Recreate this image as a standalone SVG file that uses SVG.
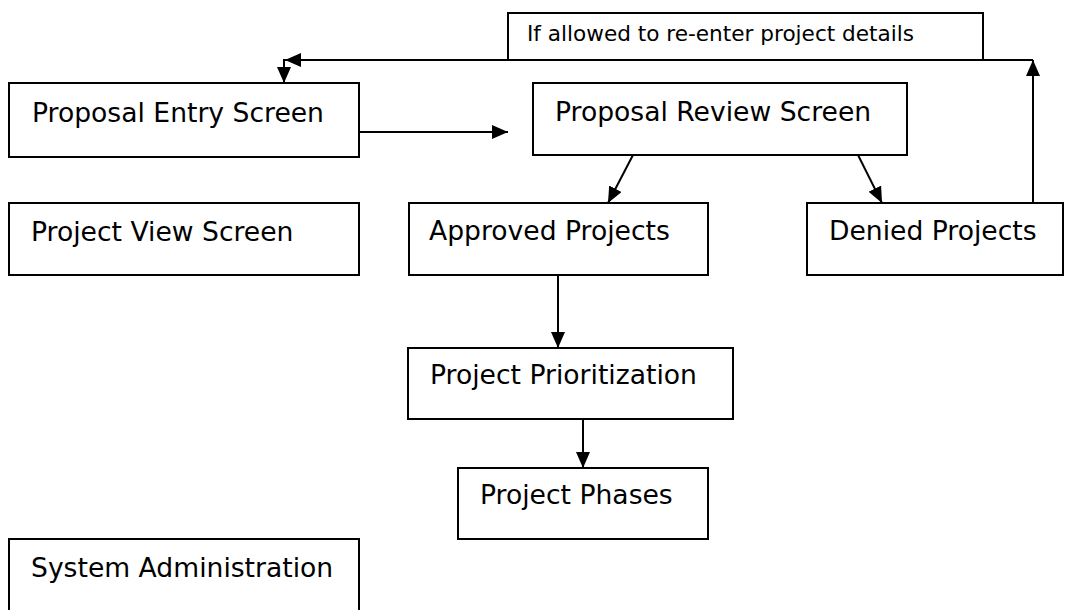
<svg xmlns="http://www.w3.org/2000/svg" width="1076" height="610" viewBox="0 0 1076 610">
<style>
.box{fill:#fff;stroke:#000;stroke-width:2}
.t{font-family:"DejaVu Sans",Verdana,sans-serif;font-size:26.6px;fill:#000}
.lt{font-family:"DejaVu Sans",Verdana,sans-serif;font-size:21.6px;fill:#000}
.c{fill:none;stroke:#000;stroke-width:2}
</style>
<defs>
<marker id="ah" markerUnits="userSpaceOnUse" markerWidth="17" markerHeight="15" refX="16" refY="7" orient="auto">
<path d="M0,0 L16,7 L0,14 z" fill="#000"/>
</marker>
</defs>
<rect width="1076" height="610" fill="#fff"/>
<g id="label">
<rect class="box" x="508" y="13" width="475" height="47"/>
<text class="lt" x="527" y="41">If allowed to re-enter project details</text>
</g>
<g id="entry">
<rect class="box" x="9" y="83" width="350" height="74"/>
<text class="t" x="32" y="122">Proposal Entry Screen</text>
</g>
<g id="review">
<rect class="box" x="533" y="83" width="374" height="72"/>
<text class="t" x="555" y="121">Proposal Review Screen</text>
</g>
<g id="view">
<rect class="box" x="9" y="203" width="350" height="72"/>
<text class="t" x="31" y="241">Project View Screen</text>
</g>
<g id="approved">
<rect class="box" x="409" y="203" width="299" height="72"/>
<text class="t" x="429" y="240">Approved Projects</text>
</g>
<g id="denied">
<rect class="box" x="807" y="203" width="256" height="72"/>
<text class="t" x="829" y="240">Denied Projects</text>
</g>
<g id="prioritization">
<rect class="box" x="408" y="348" width="325" height="71"/>
<text class="t" x="430" y="384">Project Prioritization</text>
</g>
<g id="phases">
<rect class="box" x="458" y="468" width="250" height="71"/>
<text class="t" x="480" y="504">Project Phases</text>
</g>
<g id="sysadmin">
<rect class="box" x="9" y="539" width="350" height="73"/>
<text class="t" x="31" y="577">System Administration</text>
</g>
<g id="connectors">
<line class="c" x1="359" y1="132" x2="508" y2="132" marker-end="url(#ah)"/>
<line class="c" x1="633" y1="155" x2="608" y2="203" marker-end="url(#ah)"/>
<line class="c" x1="858" y1="155" x2="882" y2="203" marker-end="url(#ah)"/>
<line class="c" x1="558" y1="275" x2="558" y2="348" marker-end="url(#ah)"/>
<line class="c" x1="583" y1="419" x2="583" y2="468" marker-end="url(#ah)"/>
<line class="c" x1="1033" y1="203" x2="1033" y2="60" marker-end="url(#ah)"/>
<line class="c" x1="1033" y1="60" x2="285" y2="60" marker-end="url(#ah)"/>
<line class="c" x1="284" y1="59" x2="284" y2="83" marker-end="url(#ah)"/>
</g>
</svg>
